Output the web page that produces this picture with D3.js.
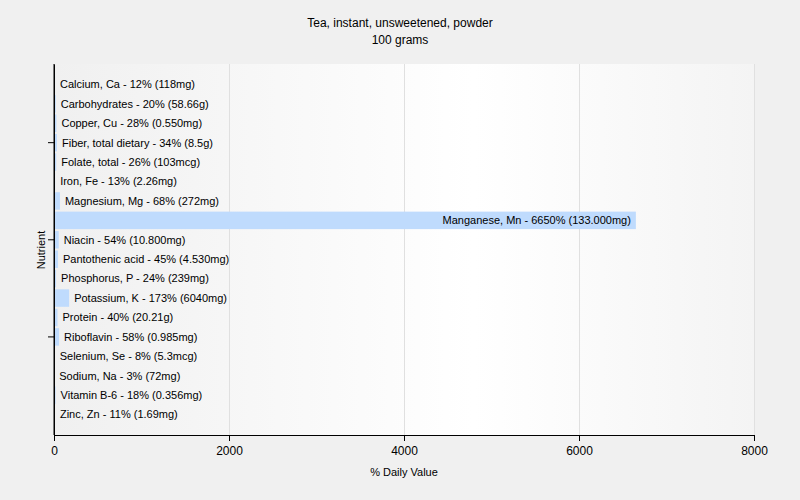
<!DOCTYPE html>
<html><head><meta charset="utf-8">
<script src="https://cdn.jsdelivr.net/npm/d3@7"></script>
<style>body{margin:0;background:#f0f0f0;font-family:"Liberation Sans",Arial,sans-serif;}</style>
</head><body>
<svg id="c" width="800" height="500"></svg>
<script>
const nutrients = ["Calcium, Ca","Carbohydrates","Copper, Cu","Fiber, total dietary","Folate, total","Iron, Fe","Magnesium, Mg","Manganese, Mn","Niacin","Pantothenic acid","Phosphorus, P","Potassium, K","Protein","Riboflavin","Selenium, Se","Sodium, Na","Vitamin B-6","Zinc, Zn"];
const percents = [12,20,28,34,26,13,68,6650,54,45,24,173,40,58,8,3,18,11];
const amounts = ["118mg","58.66g","0.550mg","8.5g","103mcg","2.26mg","272mg","133.000mg","10.800mg","4.530mg","239mg","6040mg","20.21g","0.985mg","5.3mcg","72mg","0.356mg","1.69mg"];
const xTicks = [0,2000,4000,6000,8000];
const yTickNutrients = ["Fiber, total dietary","Niacin","Riboflavin"];

const svg = d3.select("#c");
const W=800,H=500, L=54, R=754, T=64, B=435;
svg.append("rect").attr("width",W).attr("height",H).attr("fill","#f0f0f0");
const defs = svg.append("defs");
const g = defs.append("linearGradient").attr("id","bg").attr("x1","0").attr("x2","1").attr("y1","0").attr("y2","0");
g.append("stop").attr("offset","0").attr("stop-color","#f0f0f0");
g.append("stop").attr("offset","0.6").attr("stop-color","#ffffff");
g.append("stop").attr("offset","1").attr("stop-color","#f4f4f4");
svg.append("rect").attr("x",L).attr("y",T).attr("width",R-L).attr("height",B-T).attr("fill","url(#bg)");

const x = d3.scaleLinear().domain([0,8000]).range([L,R]);
const y = d3.scaleBand().domain(nutrients).range([T,B]).paddingInner(0.1).paddingOuter(0.6);

svg.append("g").selectAll("line").data(xTicks.slice(1)).join("line")
  .attr("x1",d=>x(d)).attr("x2",d=>x(d)).attr("y1",T).attr("y2",B)
  .attr("stroke","#e0e0e0").attr("stroke-width",1).attr("shape-rendering","crispEdges");

const data = nutrients.map((n,i)=>({n, p:percents[i], a:amounts[i]}));
svg.append("g").selectAll("rect").data(data).join("rect")
  .attr("x",x(0)).attr("y",d=>y(d.n)).attr("width",d=>x(d.p)-x(0)).attr("height",y.bandwidth())
  .attr("fill","#bfdbfd");

svg.append("g").selectAll("text").data(data).join("text")
  .attr("x",d=> (x(d.p)-x(0) > 300) ? x(d.p)-5 : x(d.p)+5)
  .attr("text-anchor",d=> (x(d.p)-x(0) > 300) ? "end":"start")
  .attr("y",d=>y(d.n)+y.bandwidth()/2).attr("dy","0.35em")
  .attr("font-size","11px").attr("fill","#000")
  .text(d=>`${d.n} - ${d.p}% (${d.a})`);

const xAxis = svg.append("g").attr("transform",`translate(0,${B})`)
  .call(d3.axisBottom(x).tickValues(xTicks).tickSize(6).tickSizeOuter(0).tickFormat(d3.format("d")));
xAxis.select(".domain").attr("stroke","#000");
xAxis.selectAll("text").attr("font-size","12px").attr("font-family","Liberation Sans, Arial").attr("fill","#000").attr("dy","0.9em");

const yAxis = svg.append("g").attr("transform",`translate(${L},0)`)
  .call(d3.axisLeft(y).tickValues(yTickNutrients).tickSize(6).tickSizeOuter(0).tickFormat(""));
yAxis.select(".domain").attr("stroke","#000");
svg.append("line").attr("x1",L).attr("x2",L).attr("y1",T).attr("y2",B).attr("stroke","#000");

svg.append("text").attr("x",400).attr("y",27).attr("text-anchor","middle").attr("font-size","12px").text("Tea, instant, unsweetened, powder");
svg.append("text").attr("x",400).attr("y",44).attr("text-anchor","middle").attr("font-size","12px").text("100 grams");
svg.append("text").attr("x",404).attr("y",476).attr("text-anchor","middle").attr("font-size","11px").text("% Daily Value");
svg.append("text").attr("transform","translate(45,250) rotate(-90)").attr("text-anchor","middle").attr("font-size","11px").text("Nutrient");
</script>
</body></html>
